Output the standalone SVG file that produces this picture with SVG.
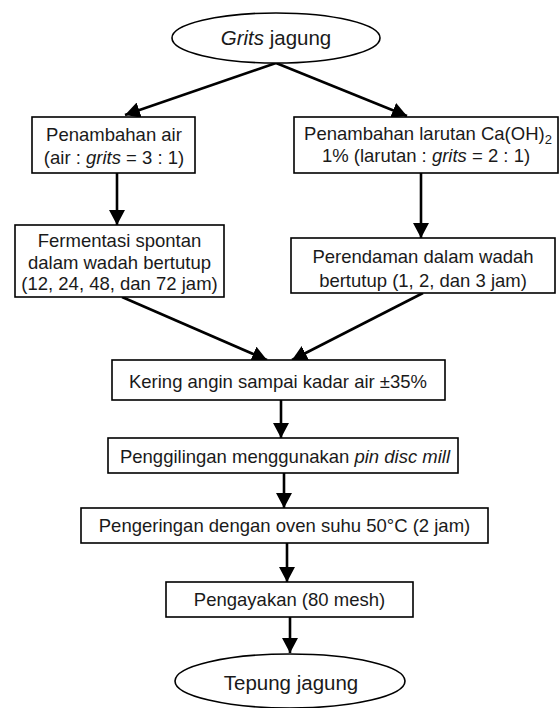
<svg xmlns="http://www.w3.org/2000/svg" width="560" height="708" viewBox="0 0 560 708">
<defs>
<style>
.box{fill:#fff;stroke:#000;stroke-width:1.6}
.t{font-family:"Liberation Sans",Arial,sans-serif;font-size:18.5px;fill:#1a1a1a;text-anchor:middle}
.te{font-family:"Liberation Sans",Arial,sans-serif;font-size:20.5px;fill:#1a1a1a;text-anchor:middle}
.c{stroke:#000;stroke-width:2.6;fill:none}
</style>
<marker id="ah" markerUnits="userSpaceOnUse" markerWidth="16" markerHeight="16" refX="15" refY="8" orient="auto">
<path d="M0,0 L15,8 L0,16 z" fill="#000"/>
</marker>
</defs>
<rect width="560" height="708" fill="#fff"/>
<g id="connectors">
<line class="c" x1="276" y1="63" x2="125" y2="115" marker-end="url(#ah)"/>
<line class="c" x1="276" y1="63" x2="407" y2="116" marker-end="url(#ah)"/>
<line class="c" x1="117" y1="173" x2="117" y2="225" marker-end="url(#ah)"/>
<line class="c" x1="421" y1="173" x2="421" y2="238" marker-end="url(#ah)"/>
<line class="c" x1="122" y1="297" x2="267" y2="360" marker-end="url(#ah)"/>
<line class="c" x1="423" y1="293" x2="292" y2="360" marker-end="url(#ah)"/>
<line class="c" x1="281" y1="400" x2="281" y2="438" marker-end="url(#ah)"/>
<line class="c" x1="284" y1="473" x2="284" y2="508" marker-end="url(#ah)"/>
<line class="c" x1="287" y1="543" x2="287" y2="582" marker-end="url(#ah)"/>
<line class="c" x1="290" y1="617" x2="290" y2="653" marker-end="url(#ah)"/>
</g>
<g id="grits">
<ellipse class="box" cx="276" cy="38" rx="104" ry="25"/>
<text class="te" x="276" y="45"><tspan font-style="italic">Grits</tspan> jagung</text>
</g>
<g id="air">
<rect class="box" x="32" y="117" width="163" height="56"/>
<text class="t" x="114" y="141">Penambahan air</text>
<text class="t" x="114" y="164">(air : <tspan font-style="italic">grits</tspan> = 3 : 1)</text>
</g>
<g id="caoh">
<rect class="box" x="294" y="117" width="264" height="56"/>
<text class="t" x="428" y="140">Penambahan larutan Ca(OH)<tspan font-size="13" dy="4">2</tspan></text>
<text class="t" x="426" y="162">1% (larutan : <tspan font-style="italic">grits</tspan> = 2 : 1)</text>
</g>
<g id="fermentasi">
<rect class="box" x="15" y="225" width="209" height="72"/>
<text class="t" x="119.5" y="247">Fermentasi spontan</text>
<text class="t" x="119.5" y="269">dalam wadah bertutup</text>
<text class="t" x="119.5" y="290">(12, 24, 48, dan 72 jam)</text>
</g>
<g id="perendaman">
<rect class="box" x="291" y="238" width="264" height="55"/>
<text class="t" x="423" y="263">Perendaman dalam wadah</text>
<text class="t" x="423" y="287">bertutup (1, 2, dan 3 jam)</text>
</g>
<g id="kering">
<rect class="box" x="112" y="360" width="333" height="40"/>
<text class="t" x="278" y="388">Kering angin sampai kadar air ±35%</text>
</g>
<g id="penggilingan">
<rect class="box" x="108" y="438" width="350" height="35"/>
<text class="t" x="285" y="463">Penggilingan menggunakan <tspan font-style="italic">pin disc mill</tspan></text>
</g>
<g id="pengeringan">
<rect class="box" x="81" y="508" width="407" height="35"/>
<text class="t" x="284.5" y="532">Pengeringan dengan oven suhu 50°C (2 jam)</text>
</g>
<g id="pengayakan">
<rect class="box" x="166" y="582" width="247" height="35"/>
<text class="t" x="289.5" y="606">Pengayakan (80 mesh)</text>
</g>
<g id="tepung">
<ellipse class="box" cx="290" cy="681" rx="115" ry="27"/>
<text class="te" x="291" y="690">Tepung jagung</text>
</g>
</svg>
